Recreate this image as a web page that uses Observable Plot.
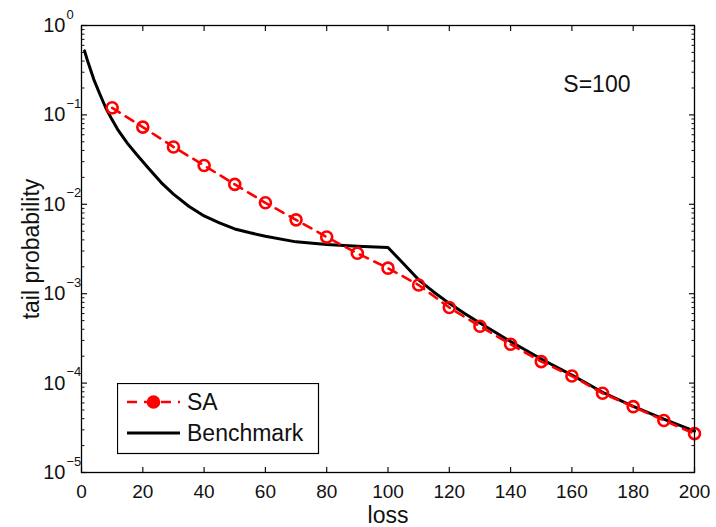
<!DOCTYPE html>
<html>
<head>
<meta charset="utf-8">
<script src="https://cdn.jsdelivr.net/npm/d3@7"></script>
<script src="https://cdn.jsdelivr.net/npm/@observablehq/plot@0.6"></script>
<style>
  html, body { margin: 0; padding: 0; background: #fff; }
  #wrap { position: relative; width: 716px; height: 527px; background: #fff; overflow: hidden; }
  #legend { position: absolute; left: 117px; top: 383px; }
</style>
</head>
<body>
<div id="wrap"></div>
<script>
// ---- data ----
const saLoss = [10, 20, 30, 40, 50, 60, 70, 80, 90, 100, 110, 120, 130, 140, 150, 160, 170, 180, 190, 200];
const saProb = [0.120, 0.073, 0.0438, 0.0272, 0.0167, 0.0104, 0.0067, 0.0043, 0.00283, 0.00193, 0.00125,
                0.000700, 0.000432, 0.000272, 0.000174, 0.000120, 0.0000770, 0.0000545, 0.0000382, 0.0000272];

const benchLoss = [1, 2, 4, 6, 8, 10, 12, 15, 18, 22, 26, 30, 35, 40, 45, 50, 55, 60, 70, 80, 90, 100,
                   105, 110, 115, 120, 125, 130, 140, 150, 160, 170, 180, 190, 200];
const benchProb = [0.52, 0.40, 0.25, 0.17, 0.118, 0.088, 0.067, 0.048, 0.036, 0.025, 0.0175, 0.013, 0.0095,
                   0.0074, 0.0062, 0.0053, 0.0048, 0.0044, 0.0038, 0.00355, 0.0034, 0.00328,
                   0.00218, 0.00143, 0.00104, 0.00078, 0.0006, 0.00047, 0.000292, 0.000186, 0.000123,
                   0.0000790, 0.0000550, 0.0000395, 0.0000290];

const xTicks = [0, 20, 40, 60, 80, 100, 120, 140, 160, 180, 200];
const yMajor = [1, 0.1, 0.01, 0.001, 0.0001, 0.00001];
const yExponents = ["0", "\u22121", "\u22122", "\u22123", "\u22124", "\u22125"];
const yMinor = [];
for (let k = -5; k < 0; k++) for (let m = 2; m <= 9; m++) yMinor.push(m * Math.pow(10, k));

const seriesNames = ["SA", "Benchmark"];
const plotLabel = "S=100";
const xTitle = "loss";
const yTitle = "tail probability";

// ---- tables built from arrays ----
const sa = saLoss.map((x, i) => ({x, y: saProb[i]}));
const bench = benchLoss.map((x, i) => ({x, y: benchProb[i]}));
const yLabels = yMajor.map((v, i) => ({v, e: yExponents[i]}));

const FONT = "'Liberation Sans', Arial, Helvetica, sans-serif";
const RED = "#ff0000";
const INK = "#111";

const chart = Plot.plot({
  width: 716,
  height: 527,
  marginLeft: 81,
  marginRight: 22,
  marginTop: 25,
  marginBottom: 55,
  style: {fontFamily: FONT, fontSize: "19px", color: INK, background: "#fff", overflow: "visible"},
  x: {domain: [0, 200]},
  y: {type: "log", domain: [1e-5, 1]},
  marks: [
    // inward ticks
    Plot.axisX({ticks: xTicks, anchor: "bottom", tickSize: -5, fill: "none", label: null, strokeWidth: 1.2}),
    Plot.axisX({ticks: xTicks, anchor: "top", tickSize: -5, fill: "none", label: null, strokeWidth: 1.2}),
    Plot.axisY({ticks: yMajor, anchor: "left", tickSize: -6, fill: "none", label: null, strokeWidth: 1.2}),
    Plot.axisY({ticks: yMajor, anchor: "right", tickSize: -6, fill: "none", label: null, strokeWidth: 1.2}),
    Plot.axisY({ticks: yMinor, anchor: "left", tickSize: -3.5, fill: "none", label: null, strokeWidth: 1}),
    Plot.axisY({ticks: yMinor, anchor: "right", tickSize: -3.5, fill: "none", label: null, strokeWidth: 1}),
    // x tick labels
    Plot.axisX({ticks: xTicks, anchor: "bottom", tickSize: 0, tickPadding: 12, fontSize: 19, label: null, tickFormat: d => String(d), fill: INK}),
    // y tick labels: 10 with superscript exponent
    Plot.text(yLabels, {y: "v", frameAnchor: "left", text: () => "10", textAnchor: "end", dx: -16, dy: 0, fontSize: 20, fill: INK}),
    Plot.text(yLabels, {y: "v", frameAnchor: "left", text: "e", textAnchor: "start", dx: -15, dy: -11, fontSize: 13, fill: INK}),
    // axis titles
    Plot.text([xTitle], {frameAnchor: "bottom", textAnchor: "middle", lineAnchor: "top", dy: 34, fontSize: 23, fill: INK}),
    Plot.text([yTitle], {frameAnchor: "left", textAnchor: "middle", dx: -50, rotate: -90, fontSize: 23, fill: INK}),
    // series
    Plot.line(bench, {x: "x", y: "y", stroke: "#000", strokeWidth: 3}),
    Plot.line(sa, {x: "x", y: "y", stroke: RED, strokeWidth: 2.6, strokeDasharray: "9,7"}),
    Plot.dot(sa, {x: "x", y: "y", r: 5.5, stroke: RED, strokeWidth: 2.6, fill: "none"}),
    // annotation
    Plot.text([plotLabel], {frameAnchor: "top-right", dx: -64, dy: 50, textAnchor: "end", fontSize: 23, fill: INK}),
    Plot.frame({stroke: "#000", strokeWidth: 1.3})
  ]
});

const wrap = document.getElementById("wrap");
wrap.appendChild(chart);

// legend overlay (inside plot area)
const lg = d3.select(wrap).append("svg")
  .attr("id", "legend")
  .attr("width", 203).attr("height", 72)
  .style("font-family", FONT);
lg.append("rect").attr("x", 0.5).attr("y", 0.5).attr("width", 201).attr("height", 70)
  .attr("fill", "#fff").attr("stroke", "#000").attr("stroke-width", 1.2);
// SA row
lg.append("line").attr("x1", 10).attr("x2", 63).attr("y1", 19).attr("y2", 19)
  .attr("stroke", RED).attr("stroke-width", 2.6).attr("stroke-dasharray", "10,7").attr("stroke-dashoffset", 0);
lg.append("circle").attr("cx", 36.5).attr("cy", 19).attr("r", 5.5)
  .attr("fill", RED).attr("stroke", RED).attr("stroke-width", 2.6);
lg.append("text").attr("x", 70).attr("y", 19).attr("dy", "0.36em")
  .attr("font-size", 23).attr("fill", INK).text(seriesNames[0]);
// Benchmark row
lg.append("line").attr("x1", 10).attr("x2", 63).attr("y1", 50).attr("y2", 50)
  .attr("stroke", "#000").attr("stroke-width", 3.2);
lg.append("text").attr("x", 70).attr("y", 50).attr("dy", "0.36em")
  .attr("font-size", 23).attr("fill", INK).text(seriesNames[1]);
</script>
</body>
</html>
